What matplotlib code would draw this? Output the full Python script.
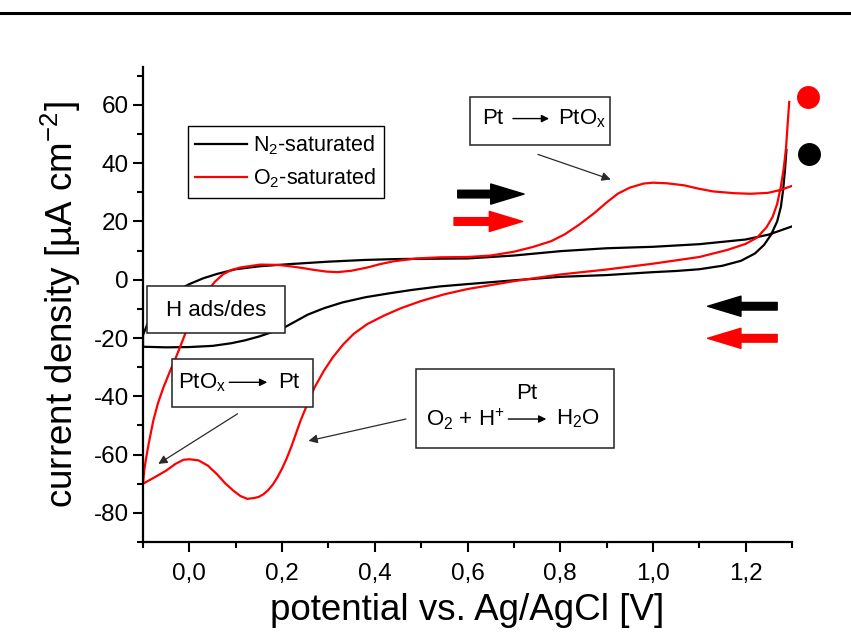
import matplotlib
matplotlib.use("Agg")
import matplotlib.pyplot as plt
from matplotlib.lines import Line2D
from matplotlib.patches import Rectangle
from matplotlib.ticker import MultipleLocator, FuncFormatter

plt.rcParams["font.family"] = ["Liberation Sans", "DejaVu Sans"]
plt.rcParams["mathtext.fontset"] = "custom"
plt.rcParams["mathtext.rm"] = "Liberation Sans"
plt.rcParams["mathtext.it"] = "Liberation Sans:italic"
plt.rcParams["mathtext.bf"] = "Liberation Sans:bold"
plt.rcParams["axes.unicode_minus"] = False

# N2-saturated CV: from the upper right end down the return branch, then the forward branch
n2_E = [1.288, 1.285, 1.281, 1.276, 1.268, 1.255, 1.24, 1.22, 1.19, 1.15, 1.10, 1.05, 1.0,
        0.9, 0.8, 0.7, 0.6, 0.54, 0.48, 0.43, 0.38, 0.33, 0.29, 0.255, 0.23, 0.207, 0.18,
        0.15, 0.12, 0.09, 0.05, 0.0, -0.05, -0.1,
        -0.1, -0.09, -0.075, -0.055, -0.03, 0.0, 0.03, 0.06, 0.10, 0.15, 0.22, 0.30, 0.38,
        0.45, 0.52, 0.6, 0.7, 0.8, 0.9, 1.0, 1.1, 1.2, 1.25, 1.3]
n2_j = [44.5, 38, 31, 25, 20, 15.5, 12, 9, 6.5, 4.8, 3.6, 3.0, 2.6,
        1.6, 1.0, -0.2, -1.5, -2.3, -3.5, -4.7, -6.0, -7.8, -9.8, -12.0, -14.2, -16.2, -17.9,
        -19.5, -20.8, -21.8, -22.7, -23.1, -23.2, -23.0,
        -19.0, -15.0, -11.0, -7.0, -4.0, -1.5, 0.5, 2.0, 3.6, 4.6, 5.4, 6.2, 6.8,
        7.1, 7.2, 7.3, 8.3, 9.8, 10.8, 11.3, 12.2, 13.8, 15.5, 18.3]

# O2-saturated CV
o2_E = [1.294, 1.29, 1.287, 1.282, 1.276, 1.268, 1.258, 1.245, 1.225, 1.2, 1.16, 1.1, 1.0,
        0.9, 0.8, 0.7, 0.6, 0.55, 0.5, 0.456, 0.42, 0.384, 0.355, 0.333, 0.31, 0.29, 0.27,
        0.255, 0.24, 0.23, 0.22, 0.21, 0.2, 0.19, 0.18, 0.17, 0.16, 0.15, 0.14, 0.125,
        0.11, 0.095, 0.077, 0.06, 0.04, 0.02, 0.0, -0.013, -0.03, -0.05, -0.075, -0.1,
        -0.097, -0.093, -0.088, -0.078, -0.068, -0.056, -0.042, -0.026, -0.012, 0.002,
        0.02, 0.039, 0.055, 0.073, 0.09, 0.11, 0.153, 0.19, 0.218, 0.245, 0.268, 0.295,
        0.32, 0.35, 0.384, 0.41, 0.44, 0.49, 0.542, 0.6, 0.65, 0.7, 0.74, 0.78, 0.81, 0.84,
        0.873, 0.90, 0.924, 0.95, 0.98, 1.0, 1.03, 1.067, 1.1, 1.13, 1.175, 1.21, 1.248,
        1.275, 1.3]
o2_j = [61, 52, 45, 38, 32, 26, 21.5, 18, 14.5, 12.3, 10.2, 7.8, 5.5,
        3.5, 1.8, -0.5, -3.2, -5.0, -7.3, -9.8, -12.3, -15.2, -18.5, -22, -26.5, -31.3, -37,
        -42.5, -48.3, -52.8, -57.3, -61.3, -64.8, -67.8, -70.3, -72.2, -73.6, -74.5, -74.9,
        -75.2, -74.2, -72.4, -69.8, -66.8, -63.8, -62.0, -61.6, -61.8, -63.2, -65.5, -67.8,
        -70.0,
        -65, -61, -56.5, -48.5, -42.5, -37, -31.5, -25.5, -19.8, -14,
        -8.5, -3.9, -0.7, 1.9, 3.3, 4.2, 5.2, 5.1, 4.6, 4.0, 3.4, 2.8,
        2.6, 3.1, 4.2, 5.3, 6.3, 7.3, 7.7, 7.8, 8.3, 9.6, 11.2, 13.2, 15.6, 18.8,
        22.8, 26.5, 29.5, 31.6, 33.0, 33.3, 33.1, 32.4, 31.2, 30.3, 29.7, 29.5, 29.8,
        30.8, 32.2]

x_ticks = [0.0, 0.2, 0.4, 0.6, 0.8, 1.0, 1.2]
y_ticks = [-80, -60, -40, -20, 0, 20, 40, 60]
labels = ["N$_\\mathregular{2}$-saturated", "O$_\\mathregular{2}$-saturated"]

fig = plt.figure(figsize=(8.51, 6.4), dpi=100)
ax = fig.add_axes([143 / 851, 98 / 640, 649 / 851, 475 / 640])

ax.plot(n2_E, n2_j, color="black", lw=1.6, label=labels[0], zorder=2)
ax.plot(o2_E, o2_j, color="#ff0000", lw=1.6, label=labels[1], zorder=2)

ax.set_xlim(-0.1, 1.3)
ax.set_ylim(-90, 73)
ax.set_xticks(x_ticks)
ax.set_yticks(y_ticks)
ax.xaxis.set_minor_locator(MultipleLocator(0.1))
ax.yaxis.set_minor_locator(MultipleLocator(10))
ax.xaxis.set_major_formatter(FuncFormatter(lambda v, p: f"{v:.1f}".replace(".", ",")))
ax.spines[["top", "right"]].set_visible(False)
for s in ["left", "bottom"]:
    ax.spines[s].set_linewidth(1.6)
ax.tick_params(which="major", direction="out", length=7, width=1.5, labelsize=17.5)
ax.tick_params(which="minor", direction="out", length=4, width=1.5)
ax.tick_params(axis="x", which="major", pad=8)
ax.tick_params(axis="y", which="major", pad=3)

ax.set_xlabel("potential vs. Ag/AgCl [V]", fontsize=26.5, labelpad=6)
ax.set_ylabel("current density [µA cm$^{\\mathregular{-2}}$]", fontsize=26.5, labelpad=8)

leg = ax.legend(loc="upper left", bbox_to_anchor=(0.069, 0.876), borderaxespad=0,
                fontsize=15.5, frameon=True, fancybox=False, edgecolor="black",
                framealpha=1, handlelength=2.4, handletextpad=0.3, borderpad=0.35,
                labelspacing=0.45)
leg.get_frame().set_linewidth(1.0)


def box(x0, y0, x1, y1):
    ax.add_patch(Rectangle((x0, y0), x1 - x0, y1 - y0, facecolor="white",
                           edgecolor="#222222", lw=1.1, zorder=3))


def small_arrow(x0, x1, y):
    ax.annotate("", xy=(x1, y), xytext=(x0, y), zorder=4,
                arrowprops=dict(arrowstyle="-|>", color="black", lw=1.0,
                                mutation_scale=11, shrinkA=0, shrinkB=0))


def leader(x0, y0, x1, y1):
    ax.annotate("", xy=(x1, y1), xytext=(x0, y0), zorder=4,
                arrowprops=dict(arrowstyle="-|>", color="#2a2a2a", lw=0.9,
                                mutation_scale=13, shrinkA=0, shrinkB=0))


tkw = dict(fontsize=16, va="center", zorder=4)

# H ads/des
box(-0.091, -18.3, 0.207, -2.2)
ax.text(0.058, -10.6, "H ads/des", ha="center", **tkw)

# PtOx -> Pt
box(-0.037, -43.7, 0.266, -27.2)
ax.text(-0.024, -35.2, "PtO$_\\mathregular{x}$", ha="left", **tkw)
small_arrow(0.086, 0.168, -35.2)
ax.text(0.192, -35.2, "Pt", ha="left", **tkw)
leader(0.104, -46.0, -0.067, -63.2)

# O2 + H+ -> H2O
box(0.488, -57.7, 0.916, -30.7)
ax.text(0.510, -47.8, "O$_\\mathregular{2}$ + H$^\\mathregular{+}$", ha="left", **tkw)
small_arrow(0.688, 0.770, -47.8)
ax.text(0.790, -47.8, "H$_\\mathregular{2}$O", ha="left", **tkw)
ax.text(0.728, -39.2, "Pt", ha="center", **tkw)
leader(0.467, -47.8, 0.257, -55.3)

# Pt -> PtOx
box(0.605, 46.4, 0.907, 62.8)
ax.text(0.631, 55.3, "Pt", ha="left", **tkw)
small_arrow(0.698, 0.776, 55.3)
ax.text(0.795, 55.3, "PtO$_\\mathregular{x}$", ha="left", **tkw)
leader(0.752, 43.0, 0.909, 34.4)

# scan direction arrows
akw = dict(arrowstyle="simple,head_length=2.4,head_width=1.45,tail_width=0.55")
for (x0, x1, y, c) in [(0.579, 0.722, 29.4, "black"), (0.571, 0.719, 20.0, "#ff0000"),
                       (1.268, 1.118, -9.1, "black"), (1.268, 1.118, -20.1, "#ff0000")]:
    ax.annotate("", xy=(x1, y), xytext=(x0, y), zorder=4,
                arrowprops=dict(color=c, mutation_scale=10, shrinkA=0, shrinkB=0, **akw))

# marker dots at the right edge
ax.plot([1.335], [62.8], "o", color="#ff0000", ms=15.5, clip_on=False)
ax.plot([1.337], [43.3], "o", color="black", ms=15.5, clip_on=False)

# page rule at the top
fig.add_artist(Line2D([0, 1], [1 - 13 / 640, 1 - 13 / 640], transform=fig.transFigure,
                      color="black", lw=2.2))

fig.savefig("out.png", dpi=100)
